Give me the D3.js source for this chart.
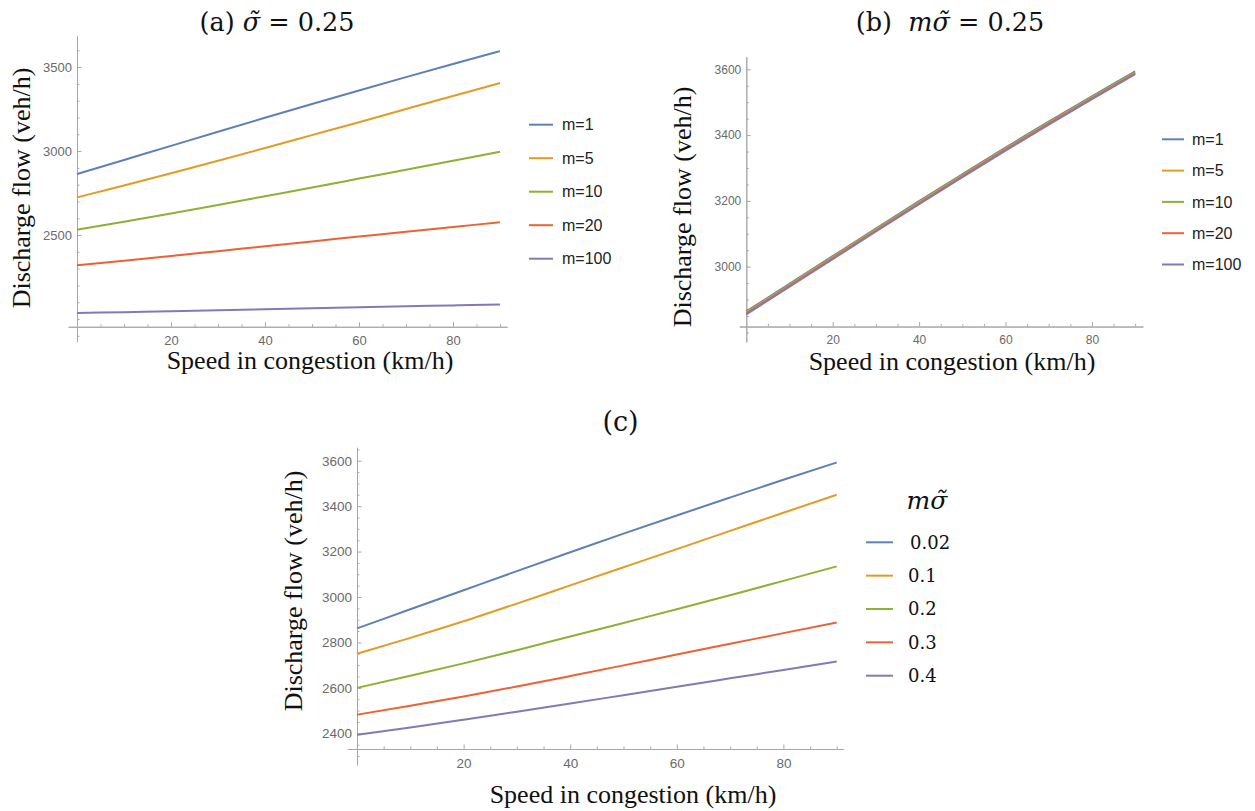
<!DOCTYPE html>
<html><head><meta charset="utf-8">
<script src="https://cdn.jsdelivr.net/npm/d3@7"></script>
<style>body{margin:0;background:#fff}</style>
</head><body><svg id="chart" width="1255" height="811" xmlns="http://www.w3.org/2000/svg"></svg>
<script>
// ---------------- DATA ----------------
const speed = [0, 10, 20, 30, 40, 50, 60, 70, 80, 90];
const xTickValues = [20, 40, 60, 80];

// Panel (a): sigma~ = 0.25
const legendA = ["m=1", "m=5", "m=10", "m=20", "m=100"];
const flowA_m1   = [2863, 2947, 3031, 3115, 3198, 3280, 3361, 3440, 3518, 3595];
const flowA_m5   = [2724, 2795, 2868, 2942, 3018, 3095, 3172, 3250, 3328, 3405];
const flowA_m10  = [2532, 2579, 2628, 2679, 2731, 2783, 2836, 2889, 2942, 2996];
const flowA_m20  = [2320, 2347, 2375, 2404, 2433, 2462, 2491, 2520, 2548, 2576];
const flowA_m100 = [2036, 2041, 2046, 2052, 2058, 2064, 2070, 2076, 2081, 2087];
const yTicksA = [2500, 3000, 3500];

// Panel (b): m*sigma~ = 0.25
const legendB = ["m=1", "m=5", "m=10", "m=20", "m=100"];
const flowB_m1   = [2864, 2948, 3032, 3116, 3199, 3281, 3362, 3441, 3518, 3594];
const flowB_m5   = [2861, 2945, 3029, 3113, 3196, 3278, 3359, 3438, 3515, 3591];
const flowB_m10  = [2859, 2943, 3027, 3111, 3194, 3276, 3357, 3436, 3513, 3589];
const flowB_m20  = [2857, 2941, 3025, 3109, 3192, 3274, 3355, 3434, 3511, 3587];
const flowB_m100 = [2855, 2939, 3023, 3107, 3190, 3272, 3353, 3432, 3509, 3585];
const yTicksB = [3000, 3200, 3400, 3600];

// Panel (c): varying m*sigma~
const legendC = ["0.02", "0.1", "0.2", "0.3", "0.4"];
const flowC_002 = [2862, 2946, 3030, 3114, 3197, 3279, 3359, 3438, 3516, 3592];
const flowC_01  = [2750, 2820, 2893, 2971, 3051, 3131, 3211, 3291, 3371, 3450];
const flowC_02  = [2600, 2653, 2708, 2766, 2826, 2886, 2946, 3008, 3071, 3135];
const flowC_03  = [2482, 2521, 2562, 2606, 2652, 2699, 2747, 2794, 2841, 2888];
const flowC_04  = [2394, 2426, 2460, 2495, 2531, 2568, 2605, 2642, 2679, 2716];
const yTicksC = [2400, 2600, 2800, 3000, 3200, 3400, 3600];

const colors = ["#5E81B5", "#E19C24", "#8FB032", "#EB6235", "#8778B3"];

// ---------------- LAYOUT ----------------
const svg = d3.select("#chart");
svg.append("rect").attr("width", 1255).attr("height", 811).attr("fill", "#fff");

const panels = [
  { series: [flowA_m1, flowA_m5, flowA_m10, flowA_m20, flowA_m100], yTicks: yTicksA, yMinorStep: 100,
    xDom: [-1.9, 91.5], xPx: [68.07, 507.05], yDom: [1865, 3685], yPx: [341.7, 36], xAxisAt: 1954, tickFont: 13 },
  { series: [flowB_m1, flowB_m5, flowB_m10, flowB_m20, flowB_m100], yTicks: yTicksB, yMinorStep: 50,
    xDom: [-1.62, 91.8], xPx: [739.3, 1142.9], yDom: [2771, 3638], yPx: [342.0, 56.8], xAxisAt: 2818, tickFont: 12 },
  { series: [flowC_002, flowC_01, flowC_02, flowC_03, flowC_04], yTicks: yTicksC, yMinorStep: 50,
    xDom: [-1.8, 91.2], xPx: [347.4, 843.1], yDom: [2261, 3659], yPx: [764.9, 447.3], xAxisAt: 2331, tickFont: 13.5 }
];

const axisColor = "#a8a8a8";
const tickTextColor = "#6a6a6a";

function styleAxis(sel, fs) {
  sel.select(".domain").attr("stroke", axisColor).attr("stroke-width", 1);
  sel.selectAll(".tick line").attr("stroke", axisColor).attr("stroke-width", 1);
  sel.selectAll(".tick text").attr("fill", tickTextColor)
     .attr("font-family", "'Liberation Sans', Arial, sans-serif").attr("font-size", fs);
}

panels.forEach(p => {
  const x = d3.scaleLinear().domain(p.xDom).range(p.xPx);
  const y = d3.scaleLinear().domain(p.yDom).range(p.yPx);
  const g = svg.append("g");

  const yMinor = d3.range(Math.ceil(p.yDom[0] / p.yMinorStep) * p.yMinorStep, p.yDom[1], p.yMinorStep)
                   .filter(v => !p.yTicks.includes(v));
  const xMinor = d3.range(5, p.xDom[1], 5).filter(v => !xTickValues.includes(v));

  // y axis
  g.append("g").attr("transform", `translate(${x(0)},0)`)
    .call(d3.axisLeft(y).tickValues(yMinor).tickSizeInner(-2.5).tickSizeOuter(0).tickFormat(""))
    .call(s => styleAxis(s, p.tickFont));
  g.append("g").attr("transform", `translate(${x(0)},0)`)
    .call(d3.axisLeft(y).tickValues(p.yTicks).tickSizeInner(-4.5).tickSizeOuter(0).tickPadding(5).tickFormat(d3.format("d")))
    .call(s => styleAxis(s, p.tickFont));

  // x axis
  g.append("g").attr("transform", `translate(0,${y(p.xAxisAt)})`)
    .call(d3.axisBottom(x).tickValues(xMinor).tickSizeInner(-2.5).tickSizeOuter(0).tickFormat(""))
    .call(s => styleAxis(s, p.tickFont));
  g.append("g").attr("transform", `translate(0,${y(p.xAxisAt)})`)
    .call(d3.axisBottom(x).tickValues(xTickValues).tickSizeInner(-4.5).tickSizeOuter(0).tickPadding(9).tickFormat(d3.format("d")))
    .call(s => styleAxis(s, p.tickFont));

  // lines
  const line = d3.line().x((d, i) => x(speed[i])).y(d => y(d)).curve(d3.curveMonotoneX);
  p.series.forEach((s, i) => {
    g.append("path").datum(s).attr("d", line)
      .attr("fill", "none").attr("stroke", colors[i]).attr("stroke-width", 2);
  });
});

// ---------------- LEGENDS ----------------
function sansLegend(labels, x1, x2, tx, y0, dy) {
  const lg = svg.append("g");
  labels.forEach((lab, i) => {
    const yy = y0 + i * dy;
    lg.append("line").attr("x1", x1).attr("x2", x2).attr("y1", yy).attr("y2", yy)
      .attr("stroke", colors[i]).attr("stroke-width", 2);
    lg.append("text").attr("x", tx).attr("y", yy).attr("dy", "0.35em")
      .attr("font-family", "'Liberation Sans', Arial, sans-serif").attr("font-size", 16)
      .attr("fill", "#222").text(lab);
  });
}
sansLegend(legendA, 529, 553, 562, 124.7, 33.5);
sansLegend(legendB, 1162, 1184, 1192, 139.3, 31.3);

const lgC = svg.append("g");
lgC.append("text").attr("x", 927).attr("y", 509).attr("text-anchor", "middle")
  .attr("font-family", "'DejaVu Serif', serif").attr("font-style", "italic").attr("font-size", 25)
  .attr("fill", "#111").text("mσ\u0303");
legendC.forEach((lab, i) => {
  const yy = 542.3 + i * 33.35;
  lgC.append("line").attr("x1", 866).attr("x2", 893).attr("y1", yy).attr("y2", yy)
    .attr("stroke", colors[i]).attr("stroke-width", 2);
  lgC.append("text").attr("x", i === 0 ? 910 : 908).attr("y", yy).attr("dy", "0.36em")
    .attr("font-family", "'DejaVu Serif', serif").attr("font-size", 18)
    .attr("fill", "#111").text(lab);
});

// ---------------- TITLES ----------------
function mathTitle(cx, by, fs, parts) {
  const t = svg.append("text").attr("x", cx).attr("y", by).attr("text-anchor", "middle")
    .attr("font-family", "'DejaVu Serif', serif").attr("font-size", fs).attr("fill", "#111")
    .attr("xml:space", "preserve");
  parts.forEach(pt => {
    t.append("tspan").attr("font-style", pt.it ? "italic" : "normal").text(pt.t);
  });
}
mathTitle(277, 31, 25.5, [{t: "(a) "}, {t: "σ\u0303", it: true}, {t: " = 0.25"}]);
mathTitle(950, 31, 25.5, [{t: "(b)  "}, {t: "mσ\u0303", it: true}, {t: " = 0.25"}]);
mathTitle(620.5, 431, 27, [{t: "(c)"}]);

// axis titles
const serif = "'Liberation Serif', 'Times New Roman', serif";
[[310, 369], [952, 370], [633, 803]].forEach(([cx, by]) => {
  svg.append("text").attr("x", cx).attr("y", by).attr("text-anchor", "middle")
    .attr("font-family", serif).attr("font-size", 26).attr("fill", "#111")
    .text("Speed in congestion (km/h)");
});
[[30, 188], [691, 207], [302, 591]].forEach(([bx, cy]) => {
  svg.append("text").attr("transform", `translate(${bx},${cy}) rotate(-90)`)
    .attr("text-anchor", "middle")
    .attr("font-family", serif).attr("font-size", 26).attr("fill", "#111")
    .text("Discharge flow (veh/h)");
});
</script>
</body></html>
